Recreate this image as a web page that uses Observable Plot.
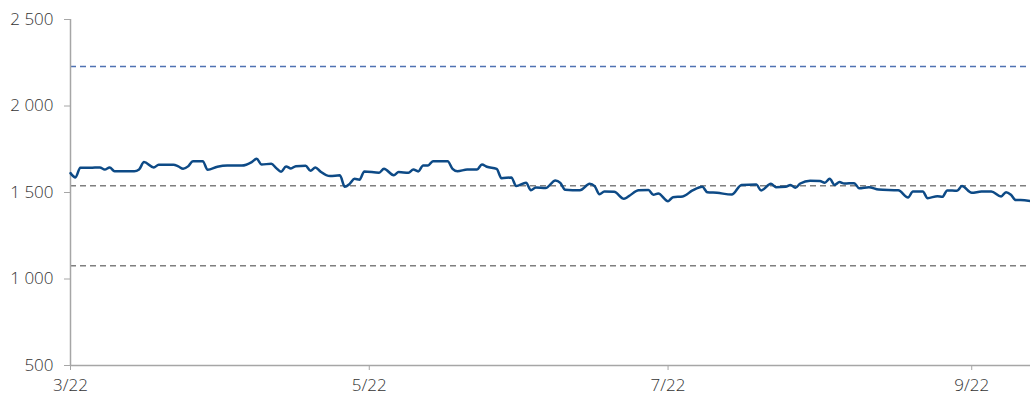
<!DOCTYPE html>
<html>
<head>
<meta charset="utf-8">
<script src="https://cdn.jsdelivr.net/npm/d3@7"></script>
<script src="https://cdn.jsdelivr.net/npm/@observablehq/plot@0.6"></script>
<style>
  html, body { margin: 0; padding: 0; background: #fff; }
  #chart svg { display: block; overflow: visible; }
  #chart svg text { font-weight: 300; }
</style>
</head>
<body>
<div id="chart"></div>
<script>
const dates = [
  "2022-03-01","2022-03-02","2022-03-03","2022-03-05","2022-03-07","2022-03-08","2022-03-09","2022-03-10",
  "2022-03-14","2022-03-15","2022-03-16","2022-03-18","2022-03-19","2022-03-22","2022-03-23","2022-03-24",
  "2022-03-25","2022-03-26","2022-03-28","2022-03-29","2022-03-31","2022-04-02","2022-04-05","2022-04-07",
  "2022-04-08","2022-04-09","2022-04-11","2022-04-12","2022-04-13","2022-04-14","2022-04-15","2022-04-16",
  "2022-04-18","2022-04-19","2022-04-20","2022-04-21","2022-04-23","2022-04-25","2022-04-26","2022-04-27",
  "2022-04-28","2022-04-29","2022-04-30","2022-05-03","2022-05-04","2022-05-06","2022-05-07","2022-05-09",
  "2022-05-10","2022-05-11","2022-05-12","2022-05-13","2022-05-14","2022-05-17","2022-05-18","2022-05-19",
  "2022-05-21","2022-05-23","2022-05-24","2022-05-25","2022-05-27","2022-05-28","2022-05-30","2022-05-31",
  "2022-06-02","2022-06-03","2022-06-04","2022-06-06","2022-06-08","2022-06-09","2022-06-10","2022-06-13",
  "2022-06-15","2022-06-16","2022-06-17","2022-06-18","2022-06-20","2022-06-22","2022-06-23","2022-06-25",
  "2022-06-27","2022-06-28","2022-06-29","2022-07-01","2022-07-02","2022-07-04","2022-07-06","2022-07-08",
  "2022-07-09","2022-07-11","2022-07-14","2022-07-16","2022-07-19","2022-07-20","2022-07-22","2022-07-23",
  "2022-07-25","2022-07-26","2022-07-27","2022-07-28","2022-07-30","2022-08-01","2022-08-02","2022-08-03",
  "2022-08-04","2022-08-05","2022-08-06","2022-08-08","2022-08-09","2022-08-11","2022-08-13","2022-08-17",
  "2022-08-19","2022-08-20","2022-08-22","2022-08-23","2022-08-25","2022-08-26","2022-08-27","2022-08-29",
  "2022-08-30","2022-09-01","2022-09-03","2022-09-05","2022-09-07","2022-09-08","2022-09-09","2022-09-10",
  "2022-09-11","2022-09-13"
];
const values = [
  1612,1587,1643,1643,1645,1633,1645,1623,
  1623,1633,1676,1645,1660,1660,1651,1637,
  1651,1681,1681,1631,1649,1656,1656,1676,
  1695,1662,1666,1641,1620,1651,1639,1652,
  1655,1626,1645,1622,1595,1599,1533,1550,
  1579,1574,1622,1614,1637,1600,1618,1614,
  1633,1622,1656,1656,1681,1681,1637,1623,
  1633,1633,1662,1649,1637,1583,1587,1537,
  1556,1513,1529,1526,1570,1556,1516,1513,
  1550,1537,1490,1506,1504,1464,1479,1513,
  1514,1487,1494,1450,1473,1477,1512,1533,
  1502,1498,1488,1544,1546,1512,1550,1531,
  1533,1544,1527,1552,1568,1566,1556,1579,
  1544,1560,1552,1554,1525,1531,1517,1513,
  1471,1506,1506,1467,1479,1475,1512,1510,
  1537,1498,1506,1506,1477,1502,1487,1456,
  1456,1450
];
const refHigh = 2228;
const refMid = 1539;
const refLow = 1077;
const xTickDates = ["2022-03-01","2022-05-01","2022-07-01","2022-09-01"];
const xTickLabels = ["3/22","5/22","7/22","9/22"];
const yTicks = [500, 1000, 1500, 2000, 2500];
const xStart = "2022-03-01";
const xEnd = "2022-09-13";

const parse = d3.utcParse("%Y-%m-%d");
const series = dates.map((d, i) => ({date: parse(d), value: values[i]}));
const tickDates = xTickDates.map(parse);
const labelFor = new Map(tickDates.map((d, i) => [+d, xTickLabels[i]]));
const fmt = d3.formatLocale({decimal: ".", thousands: " ", grouping: [3], currency: ["", ""]}).format(",");

const axisColor = "#a6a6a6";
const textColor = "#333333";

const chart = Plot.plot({
  width: 1030,
  height: 400,
  marginTop: 19,
  marginBottom: 35,
  marginLeft: 70,
  marginRight: 0,
  style: {fontFamily: "'Open Sans', Lato, sans-serif", fontSize: "17px", color: textColor, background: "#fff"},
  x: {type: "utc", domain: [parse(xStart), parse(xEnd)]},
  y: {domain: [500, 2500]},
  marks: [
    Plot.ruleY([refHigh], {stroke: "#4f72b3", strokeWidth: 1.5, strokeDasharray: "6,4"}),
    Plot.ruleY([refMid, refLow], {stroke: "#7f7f7f", strokeWidth: 1.5, strokeDasharray: "6,4"}),
    Plot.axisY({ticks: yTicks, tickSize: 6, tickPadding: 11, tickFormat: fmt, stroke: axisColor, fill: textColor, fontSize: 17, label: null}),
    Plot.axisX({ticks: tickDates, tickSize: 5, tickPadding: 8, tickFormat: d => labelFor.get(+d), stroke: axisColor, fill: textColor, fontSize: 17, label: null}),
    Plot.ruleX([parse(xStart)], {y1: 500, y2: 2500, stroke: axisColor, strokeWidth: 1.5}),
    Plot.ruleY([500], {stroke: axisColor, strokeWidth: 1.5}),
    Plot.line(series, {x: "date", y: "value", stroke: "#0d4a86", strokeWidth: 2.5, curve: "monotone-x"})
  ]
});
document.getElementById("chart").appendChild(chart);
</script>
</body>
</html>
